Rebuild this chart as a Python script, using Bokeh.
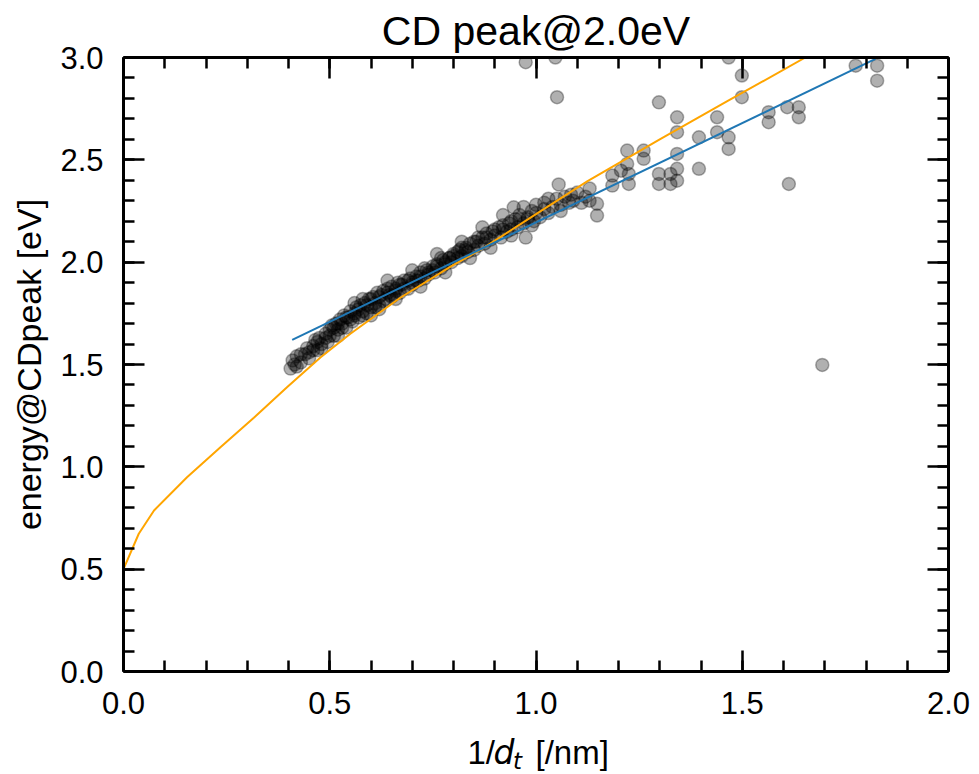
from bokeh.plotting import figure
from bokeh.models import Range1d, LinearAxis, FixedTicker, Label
from bokeh.layouts import column
from bokeh.embed import file_html
from bokeh.resources import INLINE

# ---------------- data ----------------
x_pts = [0.405, 0.41, 0.415, 0.42, 0.43, 0.44, 0.445, 0.45, 0.46, 0.465, 0.47, 0.475, 0.48, 0.49,
         0.495, 0.50, 0.505, 0.51, 0.515, 0.52, 0.525, 0.53, 0.535, 0.54, 0.545, 0.55, 0.555, 0.56,
         0.565, 0.57, 0.575, 0.58, 0.585, 0.59, 0.595, 0.60, 0.605, 0.61, 0.615, 0.62, 0.625, 0.63,
         0.635, 0.64, 0.645, 0.65, 0.655, 0.66, 0.665, 0.67, 0.675, 0.68, 0.69, 0.695, 0.70, 0.71,
         0.715, 0.72, 0.73, 0.735, 0.74, 0.75, 0.755, 0.76, 0.77, 0.775, 0.78, 0.79, 0.795, 0.80,
         0.81, 0.815, 0.82, 0.83, 0.835, 0.84, 0.85, 0.855, 0.86, 0.87, 0.875, 0.88, 0.89, 0.895,
         0.90, 0.91, 0.915, 0.92, 0.93, 0.935, 0.94, 0.946, 0.95, 0.955, 0.96, 0.97, 0.975, 0.98,
         0.99, 0.995, 1.00, 1.01, 1.02, 1.02, 1.03, 1.04, 1.05, 1.055, 1.06, 1.07, 1.08, 1.085,
         1.09, 1.10, 1.11, 1.12, 1.13, 1.13, 1.148, 1.148,
         0.52, 0.56, 0.58, 0.60, 0.62, 0.64, 0.66, 0.70, 0.72, 0.76, 0.78, 0.82, 0.84, 0.87,
         0.89, 0.92, 0.94, 0.97, 0.99, 1.03, 1.06,
         0.42, 0.43, 0.45, 0.46, 0.47, 0.48, 0.49, 0.50, 0.51, 0.52, 0.53, 0.54, 0.55, 0.56,
         0.57, 0.58, 0.59, 0.60, 0.61, 0.62, 0.63, 0.64, 0.65, 0.66, 0.67, 0.68, 0.69, 0.70,
         0.71, 0.72, 0.73, 0.74, 0.75, 0.76, 0.77, 0.78, 0.79, 0.80, 0.81, 0.82, 0.83, 0.85,
         0.86, 0.88, 0.90, 0.92, 0.94, 0.96, 0.98, 1.00,
         0.975, 1.047, 1.051, 1.185, 1.185, 1.206, 1.221, 1.221, 1.225, 1.225, 1.261, 1.261,
         1.298, 1.298, 1.298, 1.326, 1.326, 1.342, 1.342, 1.342, 1.342, 1.342, 1.395, 1.395,
         1.439, 1.439, 1.467, 1.467, 1.467, 1.499, 1.499, 1.564, 1.564, 1.613, 1.609, 1.637,
         1.637, 1.694, 1.775, 1.827, 1.827]
y_pts = [1.48, 1.52, 1.50, 1.54, 1.51, 1.55, 1.58, 1.56, 1.59, 1.62, 1.57, 1.63, 1.60, 1.65,
         1.61, 1.67, 1.69, 1.64, 1.70, 1.67, 1.72, 1.70, 1.74, 1.68, 1.73, 1.76, 1.71, 1.75,
         1.78, 1.73, 1.79, 1.76, 1.80, 1.75, 1.82, 1.78, 1.83, 1.80, 1.85, 1.79, 1.84, 1.86,
         1.82, 1.87, 1.84, 1.88, 1.84, 1.87, 1.90, 1.85, 1.89, 1.91, 1.87, 1.92, 1.89, 1.93,
         1.91, 1.95, 1.92, 1.96, 1.94, 1.98, 1.95, 1.99, 1.97, 2.01, 1.99, 2.02, 2.00, 2.04,
         2.02, 2.06, 2.03, 2.07, 2.05, 2.09, 2.06, 2.10, 2.08, 2.12, 2.09, 2.14, 2.11, 2.15,
         2.13, 2.17, 2.12, 2.18, 2.15, 2.19, 2.16, 2.268, 2.21, 2.17, 2.23, 2.19, 2.12, 2.22,
         2.25, 2.20, 2.24, 2.22, 2.29, 2.26, 2.24, 2.27, 2.31, 2.38, 2.28, 2.32, 2.29, 2.33,
         2.30, 2.34, 2.29, 2.32, 2.36, 2.30, 2.285, 2.228,
         1.64, 1.80, 1.82, 1.74, 1.77, 1.91, 1.82, 1.96, 1.88, 2.04, 1.95, 2.10, 2.02, 2.17,
         2.07, 2.23, 2.13, 2.27, 2.18, 2.31, 2.25,
         1.49, 1.55, 1.53, 1.57, 1.61, 1.58, 1.63, 1.64, 1.68, 1.70, 1.68, 1.73, 1.72, 1.74,
         1.77, 1.74, 1.79, 1.82, 1.78, 1.83, 1.81, 1.85, 1.83, 1.86, 1.89, 1.87, 1.91, 1.90,
         1.91, 1.93, 1.97, 1.95, 1.96, 1.98, 2.02, 2.00, 2.02, 2.03, 2.05, 2.07, 2.06, 2.10,
         2.12, 2.12, 2.16, 2.16, 2.20, 2.21, 2.21, 2.28,
         2.977, 3.00, 2.806, 2.423, 2.374, 2.447, 2.545, 2.48, 2.431, 2.382, 2.545, 2.505,
         2.781, 2.431, 2.382, 2.431, 2.382, 2.708, 2.635, 2.529, 2.456, 2.398, 2.61, 2.456,
         2.708, 2.635, 3.00, 2.61, 2.553, 2.912, 2.806, 2.733, 2.684, 2.382, 2.757, 2.757,
         2.708, 1.498, 2.96, 2.96, 2.887]

# orange fitted curve
fit_x = [0.0, 0.037, 0.074, 0.154, 0.235, 0.316, 0.397, 0.478, 0.55, 0.67, 0.793, 0.873,
         1.00, 1.124, 1.30, 1.467, 1.653]
fit_y = [0.50, 0.673, 0.787, 0.949, 1.096, 1.24, 1.39, 1.535, 1.65, 1.825, 1.978, 2.07,
         2.235, 2.395, 2.60, 2.79, 3.00]

# blue linear fit
lin_x = [0.409, 1.823]
lin_y = [1.620, 2.993]

x_ticks = [0.0, 0.5, 1.0, 1.5, 2.0]
x_tick_labels = ["0.0", "0.5", "1.0", "1.5", "2.0"]
y_ticks = [0.0, 0.5, 1.0, 1.5, 2.0, 2.5, 3.0]
y_tick_labels = ["0.0", "0.5", "1.0", "1.5", "2.0", "2.5", "3.0"]
x_minor = [round(0.1 * i, 1) for i in range(21)]
y_minor = [round(0.1 * i, 1) for i in range(31)]

title_text = "CD peak@2.0eV"
y_label_text = "energy@CDpeak [eV]"
x_label_parts = ["1/", "d", "t", "[/nm]"]   # 1/d_t [/nm]

FONT = "Liberation Sans"

# ---------------- main figure ----------------
p = figure(width=979, height=733, x_range=Range1d(0, 2), y_range=Range1d(0, 3),
           x_axis_type=None, y_axis_type=None, output_backend="svg",
           toolbar_location=None, min_border_left=123, min_border_right=31,
           min_border_top=57, min_border_bottom=62, title=title_text)
p.outline_line_color = None
p.background_fill_color = "white"
p.border_fill_color = "white"

p.title.text_font = FONT
p.title.text_font_size = "41px"
p.title.text_font_style = "normal"
p.title.text_color = "black"
p.title.align = "center"
p.title.standoff = 7


def make_axis(ticks, minor, labels, show_labels):
    ax = LinearAxis(ticker=FixedTicker(ticks=ticks, minor_ticks=minor))
    ax.major_tick_in = 21
    ax.major_tick_out = 0
    ax.minor_tick_in = 11
    ax.minor_tick_out = 0
    ax.axis_line_width = 3
    ax.axis_line_color = "black"
    ax.major_tick_line_width = 2.5
    ax.minor_tick_line_width = 2.5
    ax.major_tick_line_color = "black"
    ax.minor_tick_line_color = "black"
    if show_labels:
        ax.major_label_overrides = {t: l for t, l in zip(ticks, labels)}
        ax.major_label_text_font = FONT
        ax.major_label_text_font_size = "31px"
        ax.major_label_text_color = "black"
    else:
        ax.major_label_text_color = None
        ax.major_label_text_font_size = "1px"
        ax.major_label_standoff = 0
    return ax


bottom = make_axis(x_ticks, x_minor, x_tick_labels, True)
bottom.major_label_standoff = 20
left = make_axis(y_ticks, y_minor, y_tick_labels, True)
left.major_label_standoff = 20
left.axis_label = y_label_text
left.axis_label_text_font = FONT
left.axis_label_text_font_size = "34px"
left.axis_label_text_font_style = "normal"
left.axis_label_text_color = "black"
left.axis_label_standoff = 9
top = make_axis(x_ticks, x_minor, x_tick_labels, False)
right = make_axis(y_ticks, y_minor, y_tick_labels, False)

p.add_layout(bottom, "below")
p.add_layout(left, "left")
p.add_layout(top, "above")
p.add_layout(right, "right")

# scatter points
p.scatter(x_pts, y_pts, size=13, fill_color="black", fill_alpha=0.31,
          line_color="black", line_alpha=0.31, line_width=1.5)

# fits
p.line(fit_x, fit_y, line_color="#ffa500", line_width=2)
p.line(lin_x, lin_y, line_color="#1f77b4", line_width=2)

# ---------------- strip below for the x-axis label ----------------
# x in the same data units as the main plot (frames aligned), y in pixels from strip bottom
q = figure(width=979, height=41, x_range=Range1d(0, 2), y_range=Range1d(0, 41),
           x_axis_type=None, y_axis_type=None, output_backend="svg",
           toolbar_location=None, title_location=None, min_border_left=123,
           min_border_right=31, min_border_top=0, min_border_bottom=0)
q.outline_line_color = None
q.background_fill_color = "white"
q.border_fill_color = "white"

label_specs = [
    (0.8339, 22.4, FONT, "normal", "33px"),
    (0.8970, 22.4, "DejaVu Sans", "italic", "33px"),
    (0.9440, 14.0, "DejaVu Sans", "italic", "23px"),
    (0.9988, 22.4, FONT, "normal", "33px"),
]
for text, (x, y, f, st, sz) in zip(x_label_parts, label_specs):
    q.add_layout(Label(x=x, y=y, x_units="data", y_units="data", text=text,
                       text_font=f, text_font_style=st, text_font_size=sz,
                       text_color="black", text_align="left",
                       text_baseline="alphabetic"))

page = column(p, q, spacing=0)
open("out.html", "w").write(file_html(page, INLINE))
